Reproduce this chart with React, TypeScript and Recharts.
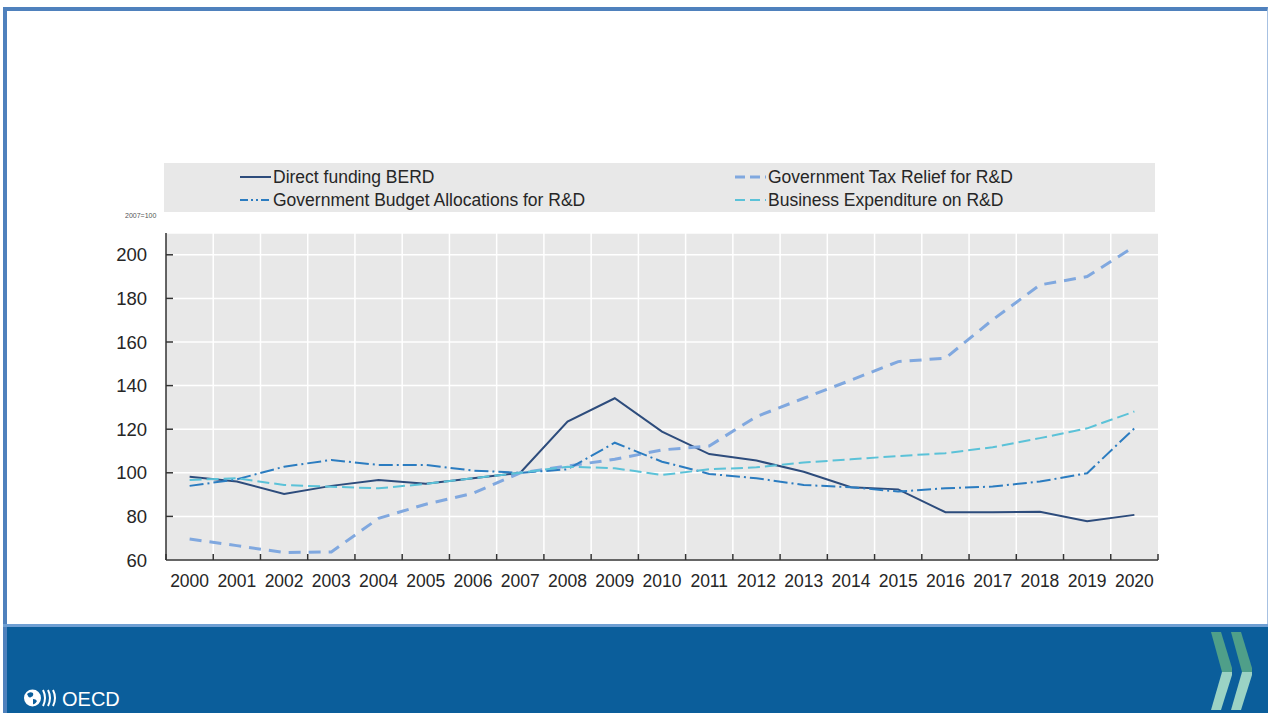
import React from "react";
import { LineChart, Line, XAxis, YAxis, CartesianGrid } from "recharts";

const years = [
  "2000", "2001", "2002", "2003", "2004", "2005", "2006", "2007", "2008", "2009", "2010",
  "2011", "2012", "2013", "2014", "2015", "2016", "2017", "2018", "2019", "2020",
];

// index values, 2007 = 100
const directFunding = [
  98.2, 96, 90.3, 94, 96.7, 95, 97.5, 100, 123.5, 134.2, 118.9,
  108.6, 105.6, 100.5, 93.4, 92.4, 81.9, 81.9, 82.1, 77.8, 80.7,
];
const taxRelief = [
  69.6, 66.6, 63.4, 63.7, 79.1, 85.6, 90.6, 100, 103.1, 106.2, 110.5,
  112.3, 125.8, 134.2, 142.5, 151, 152.6, 170.2, 186.2, 190, 203.8,
];
const budgetAllocations = [
  94, 97, 102.8, 105.9, 103.6, 103.6, 101, 100, 101.6, 113.8, 105.1,
  99.5, 97.5, 94.4, 93.4, 91.4, 92.9, 93.7, 96, 99.8, 120.4,
];
const businessExpenditure = [
  96.7, 97.5, 94.4, 93.6, 92.9, 94.9, 97.5, 100, 102.8, 102.1, 99,
  101.6, 102.5, 104.7, 106.2, 107.7, 109, 111.7, 115.9, 120.4, 128.1,
];

const yTicks = [60, 80, 100, 120, 140, 160, 180, 200];

const series = [
  { key: "direct", name: "Direct funding BERD", color: "#2d4c7c", width: 2, dash: undefined, legendDash: undefined },
  { key: "tax", name: "Government Tax Relief for R&D", color: "#80a8df", width: 3, dash: "12 8", legendDash: "10 5" },
  { key: "budget", name: "Government Budget Allocations for R&D", color: "#2b7cc0", width: 2, dash: "14 4 2 4", legendDash: "8 3 2 3 2 3" },
  { key: "business", name: "Business Expenditure on R&D", color: "#5bc2d8", width: 2, dash: "12 5", legendDash: "10 5" },
];

const data = years.map((year, i) => ({
  year,
  direct: directFunding[i],
  tax: taxRelief[i],
  budget: budgetAllocations[i],
  business: businessExpenditure[i],
}));

const FONT = '"Liberation Sans", Arial, Helvetica, sans-serif';
const W = 1270;
const H = 713;
const margin = { top: 233, right: 112, bottom: 0, left: 0 };
const Y_AXIS_W = 166;
const X_AXIS_H = 153;
const PLOT_W = W - margin.left - margin.right - Y_AXIS_W;
const BAND = PLOT_W / years.length;

const XTick = (props: any) => {
  const { x, y, payload, index } = props;
  const half = BAND / 2;
  return (
    <g>
      <line x1={x - half} x2={x - half} y1={y} y2={y - 6} stroke="#333" strokeWidth={1.5} />
      {index === years.length - 1 && (
        <line x1={x + half} x2={x + half} y1={y} y2={y - 6} stroke="#333" strokeWidth={1.5} />
      )}
      <text x={x} y={y + 27} textAnchor="middle" fontSize={17.5} fill="#262626" fontFamily={FONT}>
        {payload.value}
      </text>
    </g>
  );
};

const YTick = (props: any) => {
  const { x, y, payload } = props;
  return (
    <g>
      {payload.value !== 60 && (
        <line x1={x} x2={x + 7} y1={y} y2={y} stroke="#333" strokeWidth={1.5} />
      )}
      <text x={x - 19} y={y} dy="0.36em" textAnchor="end" fontSize={18.5} fill="#262626" fontFamily={FONT}>
        {payload.value}
      </text>
    </g>
  );
};

const legendPos = [
  { x: 240, y: 177 },
  { x: 735, y: 177 },
  { x: 240, y: 200 },
  { x: 735, y: 200 },
];
const legendOrder = ["direct", "tax", "budget", "business"];

function Legend() {
  return (
    <svg width={W} height={H} style={{ position: "absolute", left: 0, top: 0 }}>
      <rect x={164} y={163} width={991} height={49} fill="#e8e8e8" />
      {legendOrder.map((k, i) => {
        const s = series.find((d) => d.key === k)!;
        const p = legendPos[i];
        return (
          <g key={k}>
            <line
              x1={p.x}
              x2={p.x + 31}
              y1={p.y}
              y2={p.y}
              stroke={s.color}
              strokeWidth={s.width}
              strokeDasharray={s.legendDash}
            />
            <text x={p.x + 33} y={p.y + 6} fontSize={17.5} fill="#262626" fontFamily={FONT}>
              {s.name}
            </text>
          </g>
        );
      })}
      <text x={125} y={218} fontSize={7} fill="#555" fontFamily={FONT}>
        2007=100
      </text>
    </svg>
  );
}

function Footer() {
  const chevron = (x0: number) => (
    <g key={x0}>
      <polygon points={`${x0},632 ${x0 + 10},632 ${x0 + 21},668 ${x0 + 21},672 ${x0 + 11},672`} fill="#4f9f89" />
      <polygon points={`${x0 + 11},672 ${x0 + 21},672 ${x0 + 21},675 ${x0 + 10},710 ${x0},710`} fill="#9bd2c4" />
    </g>
  );
  return (
    <svg width={W} height={H} style={{ position: "absolute", left: 0, top: 0 }}>
      <rect x={3} y={625} width={1265} height={88} fill="#0b5e9b" />
      <rect x={3} y={624} width={1265} height={3} fill="#6f9fd3" />
      <rect x={3} y={627} width={4} height={86} fill="#4f81bd" />
      {chevron(1211)}
      {chevron(1231)}
      <circle cx={32.5} cy={698} r={8.5} fill="#fff" />
      <path d="M27,694 q3,-3 6,-1 q1,3 -2,4 q-2,2 -4,-3 z M33,699 q3,0 4,2 q-2,4 -4,3 z" fill="#0b5e9b" />
      <path d="M43,690 q4,8 0,16" stroke="#fff" strokeWidth={2} fill="none" />
      <path d="M48,690 q4,8 0,16" stroke="#fff" strokeWidth={2} fill="none" />
      <path d="M53,690 q4,8 0,16" stroke="#fff" strokeWidth={2} fill="none" />
      <text x={62} y={706} fontSize={20} fill="#fff" fontFamily={FONT}>
        OECD
      </text>
    </svg>
  );
}

export default function App() {
  return (
    <div style={{ position: "fixed", left: 0, top: 0, width: W, height: H, background: "#fff", overflow: "hidden" }}>
      <div
        style={{
          position: "absolute",
          left: 3,
          top: 7,
          width: 1260,
          height: 617,
          borderTop: "4px solid #4f81bd",
          borderLeft: "4px solid #4f81bd",
          borderRight: "1px solid #a7c1e2",
        }}
      />
      <Legend />
      <Footer />
      <div style={{ position: "absolute", left: 0, top: 0 }}>
        <LineChart width={W} height={H} data={data} margin={margin}>
          <CartesianGrid
            fill="#e8e8e8"
            stroke="#ffffff"
            strokeWidth={1.5}
            verticalCoordinatesGenerator={({ offset }: any) =>
              years.slice(1).map((_, i) => offset.left + ((i + 1) * offset.width) / years.length)
            }
          />
          <XAxis
            dataKey="year"
            height={X_AXIS_H}
            interval={0}
            padding={{ left: BAND / 2, right: BAND / 2 }}
            tickLine={false}
            tickSize={0}
            tickMargin={0}
            axisLine={{ stroke: "#333", strokeWidth: 1.5 }}
            tick={<XTick />}
          />
          <YAxis
            width={Y_AXIS_W}
            domain={[60, 210]}
            ticks={yTicks}
            allowDataOverflow
            tickLine={false}
            tickSize={0}
            tickMargin={0}
            axisLine={{ stroke: "#333", strokeWidth: 1.5 }}
            tick={<YTick />}
          />
          {series.map((s) => (
            <Line
              key={s.key}
              dataKey={s.key}
              name={s.name}
              type="linear"
              stroke={s.color}
              strokeWidth={s.width}
              strokeDasharray={s.dash}
              dot={false}
              activeDot={false}
              isAnimationActive={false}
            />
          ))}
        </LineChart>
      </div>
    </div>
  );
}
